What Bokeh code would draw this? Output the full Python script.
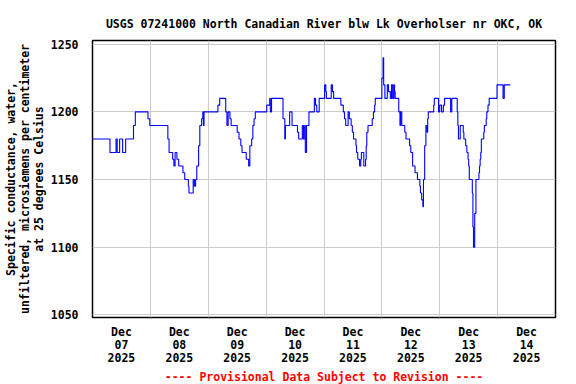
import numpy as np
from bokeh.plotting import figure
from bokeh.models import Range1d, FixedTicker, Title
from bokeh.embed import file_html
from bokeh.resources import INLINE

# Data: hours after 2025-12-07 12:00 (change points of a step series), values in uS/cm
t_hours = [
    -12, -4.75, -2.25, -1.75, -0.75, 0.5, 1.75, 5.0, 5.75, 11.0, 11.75, 19.25, 19.75,
    21.25, 21.75, 22.25, 23.0, 23.75, 25.5, 26.25, 27.75, 28.0, 29.75, 30.25, 30.75,
    31.25, 32.0, 32.5, 33.25, 33.75, 34.0, 34.25, 40.0, 40.75, 43.25, 43.75, 44.25,
    45.0, 45.5, 48.0, 48.75, 49.5, 50.0, 51.75, 52.75, 53.25, 54.0, 54.5, 55.0, 55.5,
    60.25, 61.5, 61.75, 62.25, 67.0, 67.75, 68.0, 69.75, 70.75, 73.0, 73.5, 75.0,
    75.5, 76.0, 76.25, 76.75, 77.75, 80.0, 80.5, 81.0, 82.0, 84.25, 84.75, 85.0,
    87.0, 87.5, 88.0, 91.0, 92.0, 92.5, 93.0, 94.0, 94.5, 95.25, 95.75, 96.25,
    97.25, 97.5, 98.0, 98.75, 99.25, 99.5, 100.5, 101.25, 101.5, 101.75, 102.25,
    104.0, 104.5, 105.0, 105.25, 108.0, 108.5, 108.75, 109.25, 110.25, 110.75,
    111.5, 112.0, 112.5, 113.0, 113.25, 113.5, 115.0, 115.5, 115.75, 116.25, 117.5,
    118.0, 119.5, 120.0, 120.75, 121.75, 122.75, 123.75, 124.0, 124.5, 125.0,
    125.25, 125.75, 126.25, 126.75, 127.0, 127.25, 129.5, 129.75, 131.5, 132.0,
    132.75, 133.5, 134.0, 136.5, 137.0, 139.25, 139.5, 139.75, 140.5, 141.75,
    142.0, 142.75, 143.25, 143.75, 144.0, 144.25, 145.5, 145.75, 146.0, 146.5,
    147.0, 148.25, 148.5, 148.75, 149.0, 149.25, 150.25, 150.5, 151.25, 151.5,
    152.0, 152.5, 155.75, 158.25, 158.75, 161.25,
]
values = [
    1180, 1170, 1180, 1170, 1180, 1170, 1180, 1190, 1200, 1195, 1190, 1180, 1170,
    1165, 1160, 1170, 1165, 1160, 1155, 1150, 1145, 1140, 1150, 1145, 1150,
    1160, 1175, 1190, 1195, 1200, 1190, 1200, 1205, 1210, 1200, 1190, 1200,
    1195, 1190, 1185, 1180, 1175, 1170, 1165, 1160, 1175, 1180, 1190, 1195, 1200,
    1205, 1210, 1200, 1210, 1195, 1180, 1190, 1200, 1190, 1185, 1180, 1190,
    1180, 1190, 1170, 1190, 1200, 1210, 1205, 1200, 1210, 1220, 1215, 1210,
    1220, 1215, 1210, 1205, 1200, 1195, 1190, 1200, 1195, 1190, 1185, 1180,
    1175, 1170, 1165, 1160, 1165, 1170, 1160, 1165, 1175, 1185, 1190,
    1195, 1200, 1205, 1210, 1225, 1240, 1220, 1210, 1220, 1215,
    1210, 1220, 1210, 1220, 1215, 1210, 1200, 1190, 1200, 1190, 1185,
    1180, 1175, 1170, 1160, 1155, 1150, 1145, 1140, 1135, 1130,
    1150, 1175, 1190, 1185, 1195, 1200, 1205, 1210, 1200, 1205,
    1200, 1205, 1210, 1200, 1210, 1200, 1190, 1180, 1190, 1185,
    1180, 1175, 1170, 1165, 1160, 1150, 1140, 1115, 1100, 1125,
    1150, 1155, 1160, 1165, 1170, 1180, 1185, 1190, 1195, 1200,
    1205, 1210, 1220, 1210, 1220, 1220,
]
day_labels = ["Dec\n07\n2025", "Dec\n08\n2025", "Dec\n09\n2025", "Dec\n10\n2025",
              "Dec\n11\n2025", "Dec\n12\n2025", "Dec\n13\n2025", "Dec\n14\n2025"]
y_ticks = [1050, 1100, 1150, 1200, 1250]
title_text = "USGS 07241000 North Canadian River blw Lk Overholser nr OKC, OK"
footer_text = "---- Provisional Data Subject to Revision ----"
y_label = "Specific conductance, water,\nunfiltered, microsiemens per centimeter\nat 25 degrees Celsius"

# x in hours since 2025-12-07 00:00
x = [h + 12 for h in t_hours]

FONT = "DejaVu Sans Mono"
FS = "11.5px"

p = figure(width=576, height=384, output_backend="svg", toolbar_location=None,
           x_range=Range1d(0, 192), y_range=Range1d(1048.0, 1252.8),
           min_border_left=92, min_border_right=21, min_border_top=40, min_border_bottom=67)

p.step(x, values, mode="after", line_color="#0000ff", line_width=1.1)

p.title.text = title_text
p.title.align = "center"
p.title.text_font = FONT
p.title.text_font_size = FS
p.title.text_font_style = "bold"
p.title.text_color = "black"
p.title.standoff = 19

foot = Title(text=footer_text, align="center", text_font=FONT, text_font_size=FS,
             text_font_style="bold", text_color="red", standoff=0)
p.add_layout(foot, "below")

tick_pos = [12 + 24 * i for i in range(len(day_labels))]
p.xaxis.ticker = FixedTicker(ticks=tick_pos)
p.xaxis.major_label_overrides = {t: lab for t, lab in zip(tick_pos, day_labels)}
p.xgrid.ticker = FixedTicker(ticks=[24 * i for i in range(1, 8)])

p.yaxis.ticker = FixedTicker(ticks=y_ticks)
p.ygrid.ticker = FixedTicker(ticks=y_ticks)
p.yaxis.axis_label = y_label

for ax in (p.xaxis[0], p.yaxis[0]):
    ax.axis_line_color = None
    ax.major_tick_line_color = None
    ax.minor_tick_line_color = None
    ax.major_label_text_font = FONT
    ax.major_label_text_font_size = FS
    ax.major_label_text_font_style = "bold"
    ax.major_label_text_color = "black"

p.yaxis.major_label_standoff = 8
p.xaxis.major_label_standoff = 1
p.xaxis.major_label_text_line_height = 0.93
p.yaxis.axis_label_text_font = FONT
p.yaxis.axis_label_text_font_size = FS
p.yaxis.axis_label_text_font_style = "bold"
p.yaxis.axis_label_text_color = "black"
p.yaxis.axis_label_text_line_height = 1.0
p.yaxis.axis_label_standoff = 2

for g in (p.xgrid[0], p.ygrid[0]):
    g.grid_line_color = "#cccccc"
    g.grid_line_width = 1

p.outline_line_color = "black"
p.outline_line_width = 1.5
p.background_fill_color = "white"
p.border_fill_color = "white"

open("out.html", "w").write(file_html(p, INLINE))
